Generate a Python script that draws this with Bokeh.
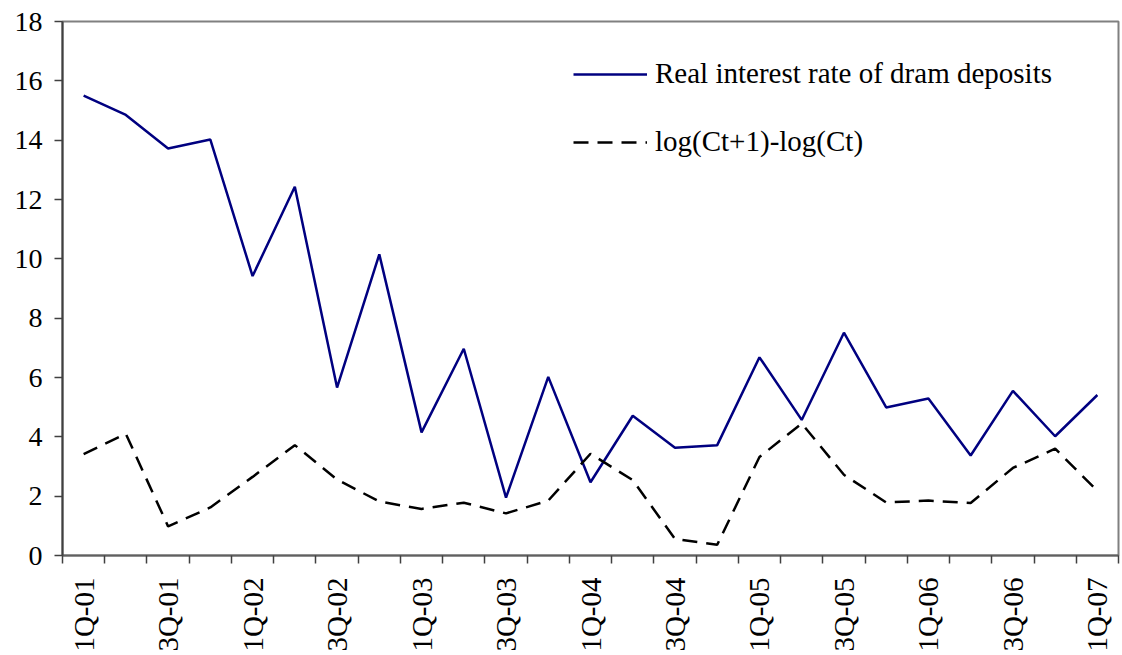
import math
from bokeh.plotting import figure
from bokeh.models import FixedTicker, Legend, LegendItem, Range1d, LinearAxis
from bokeh.embed import file_html
from bokeh.resources import INLINE

quarters = ["1Q-01", "2Q-01", "3Q-01", "4Q-01",
            "1Q-02", "2Q-02", "3Q-02", "4Q-02",
            "1Q-03", "2Q-03", "3Q-03", "4Q-03",
            "1Q-04", "2Q-04", "3Q-04", "4Q-04",
            "1Q-05", "2Q-05", "3Q-05", "4Q-05",
            "1Q-06", "2Q-06", "3Q-06", "4Q-06",
            "1Q-07"]
real_rate = [15.5, 14.85, 13.72, 14.02, 9.42, 12.43, 5.66, 10.15,
             4.15, 6.97, 1.95, 6.02, 2.47, 4.71, 3.63, 3.72,
             6.68, 4.57, 7.51, 4.99, 5.29, 3.37, 5.55, 4.02, 5.41]
cons_growth = [3.42, 4.1, 0.98, 1.62, 2.65, 3.72, 2.56, 1.82,
               1.57, 1.78, 1.42, 1.85, 3.43, 2.54, 0.56, 0.36,
               3.32, 4.45, 2.72, 1.79, 1.85, 1.77, 2.95, 3.6, 2.18]
y_ticks = [0, 2, 4, 6, 8, 10, 12, 14, 16, 18]
series_names = ["Real interest rate of dram deposits", "log(Ct+1)-log(Ct)"]

xs = list(range(len(quarters)))
FONT = "Liberation Serif"

p = figure(width=1122, height=655, output_backend="svg", toolbar_location=None,
           x_range=Range1d(-0.5, len(quarters) - 0.5), y_range=Range1d(0, 18),
           x_axis_location=None, y_axis_location=None)
p.min_border_left = 62
p.min_border_right = 4
p.min_border_top = 21
p.min_border_bottom = 100
p.background_fill_color = "white"
p.border_fill_color = "white"
p.outline_line_color = "#808080"
p.outline_line_width = 2
p.grid.visible = False

r1 = p.line(xs, real_rate, line_color="#000080", line_width=2.5)
r2 = p.line(xs, cons_growth, line_color="black", line_width=2.5, line_dash="15 9")

# x axis
label_idx = list(range(0, len(quarters), 2))
xaxis = LinearAxis(
    ticker=FixedTicker(ticks=label_idx,
                       minor_ticks=[i - 0.5 for i in range(len(quarters) + 1)]),
    major_label_overrides={i: quarters[i] for i in label_idx},
    major_label_orientation=math.pi / 2,
    major_tick_line_color=None,
    minor_tick_line_color="#404040",
    minor_tick_line_width=1.5,
    minor_tick_out=8,
    minor_tick_in=0,
    axis_line_color="#606060",
    axis_line_width=2,
    major_label_text_font=FONT,
    major_label_text_font_size="29px",
    major_label_text_color="black",
    major_label_standoff=14,
)
p.add_layout(xaxis, "below")

# y axis
yaxis = LinearAxis(
    ticker=FixedTicker(ticks=y_ticks),
    minor_tick_line_color=None,
    major_tick_line_color="#404040",
    major_tick_line_width=1.5,
    major_tick_out=8,
    major_tick_in=0,
    axis_line_color="#404040",
    axis_line_width=2,
    major_label_text_font=FONT,
    major_label_text_font_size="28px",
    major_label_text_color="black",
    major_label_standoff=12,
)
p.add_layout(yaxis, "left")

legend = Legend(items=[LegendItem(label=series_names[0], renderers=[r1]),
                       LegendItem(label=series_names[1], renderers=[r2])],
                location=(511, 397))
legend.border_line_color = None
legend.background_fill_alpha = 0
legend.padding = 0
legend.margin = 0
legend.glyph_width = 74
legend.glyph_height = 30
legend.label_height = 30
legend.spacing = 35
legend.label_standoff = 8
legend.label_text_font = FONT
legend.label_text_font_size = "29px"
legend.label_text_color = "black"
p.add_layout(legend)

open("out.html", "w").write(file_html(p, INLINE))
